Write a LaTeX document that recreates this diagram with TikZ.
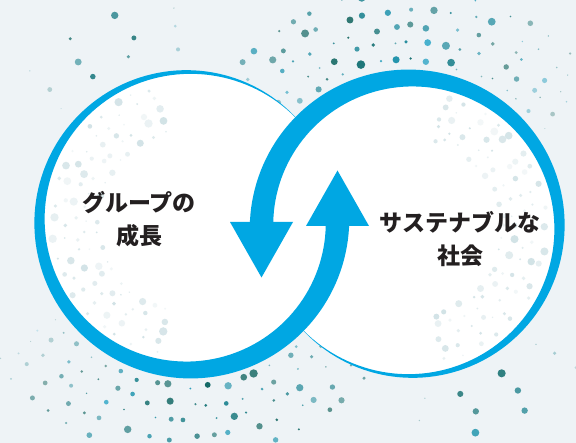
\documentclass[tikz,border=0pt]{standalone}
\usepackage{fontspec}
\newfontfamily\jp{Noto Sans CJK JP}
\definecolor{bg}{RGB}{238,243,246}
\definecolor{band}{RGB}{0,167,227}
\definecolor{ink}{RGB}{35,31,32}
\definecolor{tealdark}{RGB}{14,96,88}
\definecolor{tealcyan}{RGB}{40,168,205}
\definecolor{faint}{RGB}{180,208,214}

\tikzset{
  caption/.style={font=\jp\bfseries\fontsize{23}{33}\selectfont, text=ink, align=center, inner sep=0pt},
  disc/.style={fill=white},
}

% tapered band: centre (#1,#2), radius 149, start angle #3, sweep 0..318
\newcommand\taperband[3]{%
  \fill[band]
    plot[domain=0:318,samples=140]
      ({#1+(149+(23.5-0.0735*\x)/2)*cos(#3+\x)},{#2+(149+(23.5-0.0735*\x)/2)*sin(#3+\x)})
    -- plot[domain=318:0,samples=140]
      ({#1+(149-(23.5-0.0735*\x)/2)*cos(#3+\x)},{#2+(149-(23.5-0.0735*\x)/2)*sin(#3+\x)})
    -- cycle;}

% arc-shaped field of dots around (#1,#2): first angle #3, angular span #4,
% inner radius #5, rings #6, dots per ring #7, ring spacing #8
\newcommand\dotfield[8]{%
  \foreach \k in {1,...,#6}{%
    \foreach \j in {0,...,#7}{%
      \pgfmathsetmacro\ang{#3+\j*#4/#7+2.2*rand}%
      \pgfmathsetmacro\rad{#5+\k*#8+3*rand}%
      \pgfmathsetmacro\tap{sin(min(180,max(0,(\ang-#3)/#4*180)))}%
      \pgfmathsetmacro\sz{(1.0+3.6*rnd^1.4)*(0.5+0.5*\tap)}%
      \pgfmathsetmacro\op{(0.6+0.4*rnd)*(0.35+0.65*\tap)}%
      \pgfmathtruncatemacro\mix{100*rnd^0.7}%
      \fill[tealdark!\mix!tealcyan, opacity=\op]
        ({#1+\rad*cos(\ang)},{#2+\rad*sin(\ang)}) circle[radius=\sz pt];
    }}}

% faint dots inside a disc
\newcommand\faintfield[5]{%
  \foreach \k in {0,...,4}{%
    \foreach \j in {0,...,18}{%
      \pgfmathsetmacro\ang{#3+\j*#4/18+2.5*rand}%
      \pgfmathsetmacro\rad{#5+\k*11+3*rand}%
      \pgfmathsetmacro\sz{0.8+3.4*rnd^1.5}%
      \pgfmathsetmacro\op{0.15+0.45*rnd}%
      \fill[faint, opacity=\op]
        ({#1+\rad*cos(\ang)},{#2+\rad*sin(\ang)}) circle[radius=\sz pt];
    }}}

\begin{document}
\begin{tikzpicture}[x=1pt,y=-1pt]
  \useasboundingbox (0,0) rectangle (576,443);
  \fill[bg] (0,0) rectangle (576,443);

  \coordinate (L) at (188.5,221);
  \coordinate (R) at (410.5,227);

  % swirl of dots behind the discs
  \pgfmathsetseed{7}
  \dotfield{410.5}{227}{205}{118}{150}{5}{20}{17}
  \dotfield{188.5}{221}{25}{118}{150}{5}{20}{17}
  \dotfield{188.5}{221}{222}{45}{150}{3}{3}{22}
  \dotfield{410.5}{227}{42}{45}{150}{3}{3}{22}

  % the two discs
  \fill[disc] (L) circle[radius=149pt];
  \fill[disc] (R) circle[radius=149pt];

  % faint dots inside the discs
  \faintfield{188.5}{221}{105}{150}{92}
  \faintfield{410.5}{227}{285}{150}{92}

  % tapered bands around the discs
  \taperband{188.5}{221}{0}
  \taperband{410.5}{227}{180}

  % arrow heads
  \coordinate (dnA) at (230,222);
  \coordinate (dnB) at (293,222);
  \coordinate (dnT) at (261.5,277.5);
  \coordinate (upA) at (306,226);
  \coordinate (upB) at (369,226);
  \coordinate (upT) at (337.5,170.5);
  \fill[band] (dnA) -- (dnB) -- (dnT) -- cycle;
  \fill[band] (upA) -- (upB) -- (upT) -- cycle;

  % captions
  \node[caption] (growth) at (139,219) {グループの\\成長};
  \node[caption] (society) at (460,239) {サステナブルな\\社会};
\end{tikzpicture}
\end{document}
